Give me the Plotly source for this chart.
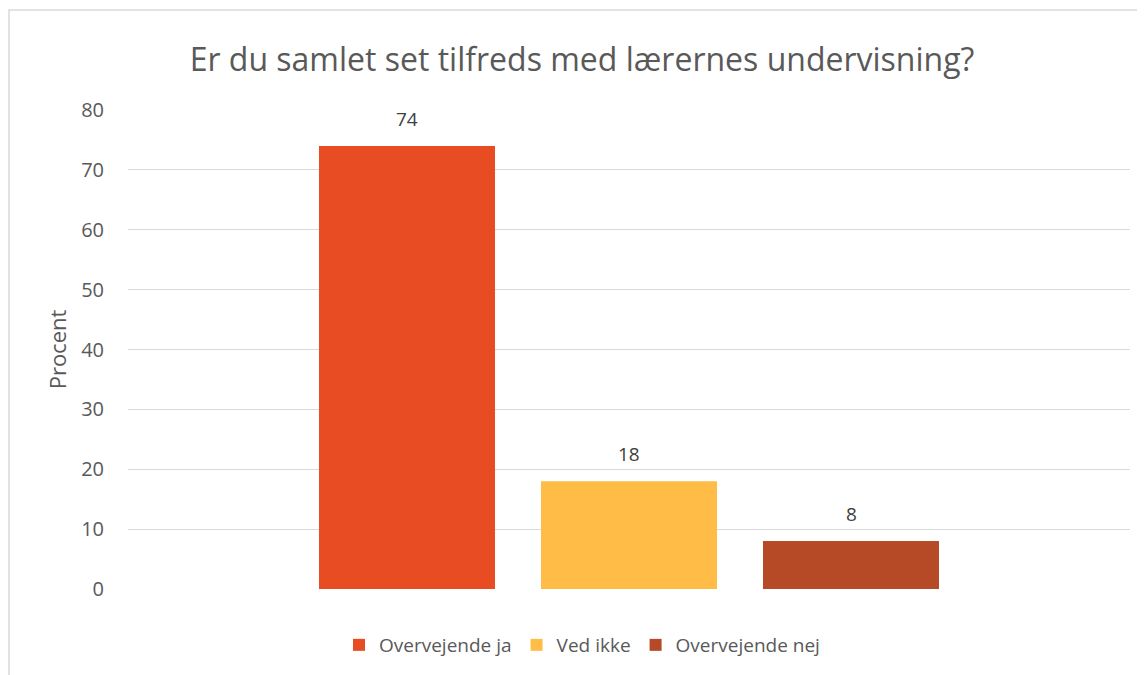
import plotly.graph_objects as go

# Data
series = ['Overvejende ja', 'Ved ikke', 'Overvejende nej']
values = [74, 18, 8]
colors = ['#E84C22', '#FFBD47', '#B64926']

# page body adds an 8px offset, so margins are measured from (8, 8)
W, H = 1145, 675
L, R, T, B = 120, 23, 102, 94
plot_w = W - L - R
plot_h = H - T - B

bar_w = 176 / plot_w
gap = 46 / plot_w
start = -0.5 * (3 * bar_w + 2 * gap)

fig = go.Figure()
for i, (name, val, col) in enumerate(zip(series, values, colors)):
    off = start + i * (bar_w + gap)
    fig.add_trace(go.Bar(
        x=[0], y=[val], name=name,
        marker_color=col, marker_line_width=0,
        width=bar_w, offset=off,
    ))
    # data label above the bar
    fig.add_annotation(x=off + bar_w / 2, y=val, xref='x', yref='y',
                       text=str(val), showarrow=False, yshift=27,
                       yanchor='middle',
                       font=dict(size=19, color='#404040'))

# chart border (left and top edges visible)
def px_x(p):
    return (p - 8 - L) / plot_w

def px_y(p):
    return (H - B - (p - 8)) / plot_h

fig.add_shape(type='path', xref='paper', yref='paper',
              path=f'M {px_x(9)},{px_y(700)} L {px_x(9)},{px_y(10)} L {px_x(1170)},{px_y(10)}',
              line=dict(color='#D9D9D9', width=1.5))

fig.update_layout(
    width=W, height=H,
    margin=dict(l=L, r=R, t=T, b=B),
    paper_bgcolor='white', plot_bgcolor='white',
    barmode='overlay',
    font=dict(family='Open Sans', color='#595959'),
    title=dict(text='Er du samlet set tilfreds med lærernes undervisning?',
               x=(582 - 8) / W, xanchor='center', y=1 - (60 - 8) / H,
               yanchor='middle', font=dict(size=32, color='#595959')),
    xaxis=dict(range=[-0.5, 0.5], showticklabels=False, showgrid=False,
               zeroline=False, showline=False, fixedrange=True),
    yaxis=dict(range=[0, 80], dtick=10, showgrid=True, gridcolor='#D9D9D9',
               gridwidth=1.3, zeroline=False, showline=False,
               tickfont=dict(size=20, color='#595959'), ticks='',
               ticklabelstandoff=23,
               title=dict(text='Procent', font=dict(size=22, color='#595959'),
                          standoff=8)),
    legend=dict(orientation='h', x=px_x(582), xanchor='center',
                y=px_y(645), yanchor='middle',
                font=dict(size=19, color='#595959'),
                itemwidth=30, traceorder='normal'),
)

fig.write_html('out.html')
